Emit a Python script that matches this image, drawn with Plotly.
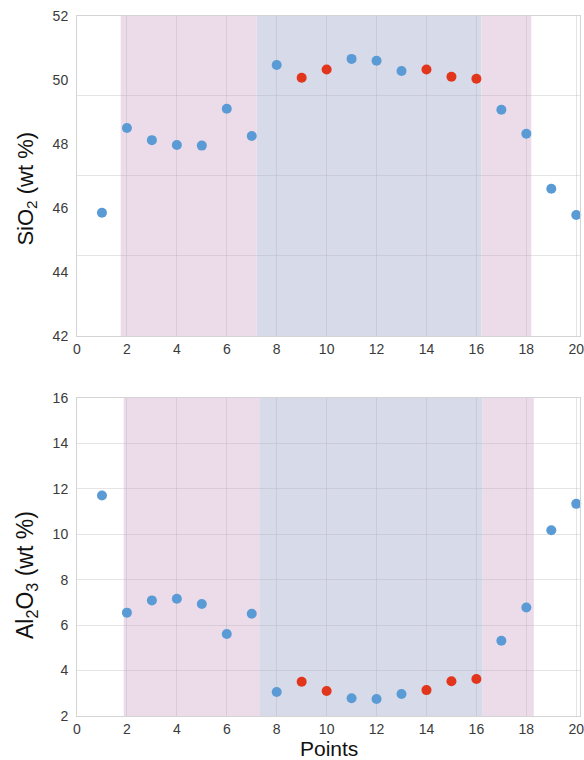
import plotly.graph_objects as go

points = list(range(1, 21))
sio2 = [45.85, 48.5, 48.12, 47.97, 47.95, 49.1, 48.25, 50.47, 50.07, 50.33,
        50.66, 50.6, 50.28, 50.33, 50.1, 50.04, 49.07, 48.32, 46.6, 45.78]
al2o3 = [11.71, 6.55, 7.09, 7.16, 6.93, 5.61, 6.5, 3.06, 3.51, 3.1,
         2.78, 2.75, 2.97, 3.14, 3.53, 3.63, 5.31, 6.78, 10.18, 11.34]
highlighted = [9, 10, 14, 15, 16]
# shaded zones: (start, end, kind) per panel
zones_top = [(1.75, 7.2, "outer"), (7.2, 16.2, "core"), (16.2, 18.2, "outer")]
zones_bot = [(1.87, 7.33, "outer"), (7.33, 16.25, "core"), (16.25, 18.3, "outer")]

BLUE = "#5b9bd5"
RED = "#e2361c"
ZONE_COL = {"outer": "#ecdcea", "core": "#d6dae9"}
GRID = "rgba(175,175,175,0.32)"
BORDER = "#d4d4d4"
FONT = "Liberation Sans, Arial, sans-serif"
TICKFONT = dict(size=14, color="#3a3a3a", family=FONT)

fig = go.Figure()

def add_panel(yvals, xref, yref):
    blue_x = [p for p in points if p not in highlighted]
    blue_y = [v for p, v in zip(points, yvals) if p not in highlighted]
    red_x = [p for p in points if p in highlighted]
    red_y = [v for p, v in zip(points, yvals) if p in highlighted]
    for xs, ys, c in [(blue_x, blue_y, BLUE), (red_x, red_y, RED)]:
        fig.add_trace(go.Scatter(x=xs, y=ys, mode="markers", xaxis=xref, yaxis=yref,
                                 marker=dict(size=10, color=c), showlegend=False,
                                 cliponaxis=False))

add_panel(sio2, "x", "y")
add_panel(al2o3, "x2", "y2")

for zones, xr, yr in [(zones_top, "x", "y domain"), (zones_bot, "x2", "y2 domain")]:
    for x0, x1, k in zones:
        fig.add_shape(type="rect", xref=xr, yref=yr, x0=x0, x1=x1, y0=0, y1=1,
                      fillcolor=ZONE_COL[k], line=dict(width=0), layer="below")

xcommon = dict(range=[0, 20.15], tickmode="linear", tick0=0, dtick=2, showgrid=True,
               gridcolor=GRID, gridwidth=1, zeroline=False, showline=True,
               linecolor=BORDER, mirror=True, ticklabeloverflow="allow",
               tickfont=TICKFONT)

fig.update_layout(
    width=584, height=760,
    margin=dict(l=77, r=0, t=16, b=44),
    plot_bgcolor="white", paper_bgcolor="white",
    font=dict(family=FONT),
    xaxis=dict(**xcommon, anchor="y"),
    xaxis2=dict(**xcommon, anchor="y2"),
    yaxis=dict(domain=[0.5429, 1.0], range=[42, 52], tickmode="linear", tick0=42, dtick=2,
               showgrid=False, zeroline=False, showline=True, linecolor=BORDER, mirror=True,
               minor=dict(tick0=42, dtick=2.5, showgrid=True, gridcolor=GRID, gridwidth=1),
               ticklabelstandoff=5, tickfont=TICKFONT),
    yaxis2=dict(domain=[0.0, 0.4543], range=[2, 16], tickmode="linear", tick0=2, dtick=2,
                showgrid=True, gridcolor=GRID, gridwidth=1, zeroline=False,
                showline=True, linecolor=BORDER, mirror=True, ticklabelstandoff=5,
                tickfont=TICKFONT),
    annotations=[
        dict(text="SiO<sub>2</sub> (wt %)", xref="paper", yref="paper", x=-0.1, y=0.753,
             xanchor="center", yanchor="middle", textangle=-90, showarrow=False,
             font=dict(size=22, color="#111", family=FONT)),
        dict(text="Al<sub>2</sub>O<sub>3</sub> (wt %)", xref="paper", yref="paper",
             x=-0.1, y=0.201, xanchor="center", yanchor="middle", textangle=-90,
             showarrow=False, font=dict(size=23, color="#111", family=FONT)),
        dict(text="Points", xref="paper", yref="paper", x=0.5, y=-0.0465,
             xanchor="center", yanchor="middle", showarrow=False, borderpad=0,
             font=dict(size=21, color="#111", family=FONT)),
    ],
)

fig.write_html("out.html")
